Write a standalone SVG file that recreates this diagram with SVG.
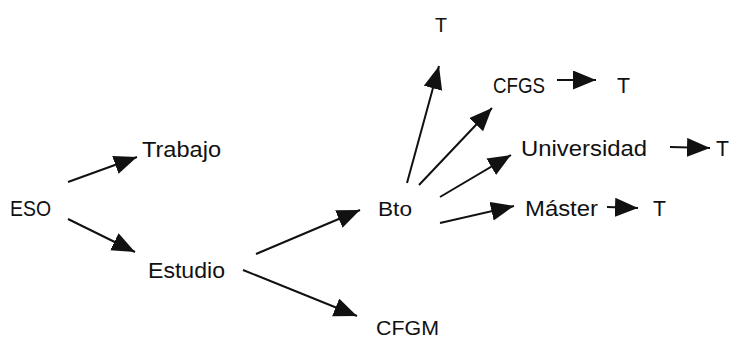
<svg xmlns="http://www.w3.org/2000/svg" width="731" height="340" viewBox="0 0 731 340">
<style>
text{font-family:"Liberation Sans",Arial,sans-serif;font-size:21px;fill:#111}
.c{font-size:22px}
.e{stroke:#111;stroke-width:2;fill:none;marker-end:url(#ah)}
</style>
<defs>
<marker id="ah" markerUnits="userSpaceOnUse" markerWidth="26" markerHeight="20" refX="23" refY="9.5" orient="auto">
<path d="M0,0 L23,9.5 L0,19 z" fill="#111"/>
</marker>
</defs>
<rect width="731" height="340" fill="#fff"/>
<g id="connectors">
<line class="e" x1="68" y1="182" x2="137" y2="157"/>
<line class="e" x1="68" y1="219" x2="135" y2="252"/>
<line class="e" x1="256" y1="254" x2="360" y2="210"/>
<line class="e" x1="243" y1="270" x2="357" y2="316"/>
<line class="e" x1="407" y1="183" x2="439" y2="66"/>
<line class="e" x1="419" y1="185" x2="492" y2="108"/>
<line class="e" x1="440" y1="197" x2="511" y2="155"/>
<line class="e" x1="440" y1="223" x2="514" y2="206"/>
<line class="e" x1="557" y1="80" x2="596" y2="80"/>
<line class="e" x1="670" y1="147" x2="710" y2="148"/>
<line class="e" x1="607" y1="207" x2="638" y2="208"/>
</g>
<g id="eso"><text class="c" x="10" y="216" textLength="41" lengthAdjust="spacingAndGlyphs">ESO</text></g>
<g id="trabajo"><text class="c" x="142" y="157" textLength="79" lengthAdjust="spacingAndGlyphs">Trabajo</text></g>
<g id="estudio"><text class="c" x="148" y="278" textLength="77" lengthAdjust="spacingAndGlyphs">Estudio</text></g>
<g id="bto"><text x="378" y="216" textLength="34" lengthAdjust="spacingAndGlyphs">Bto</text></g>
<g id="cfgm"><text x="376" y="335" textLength="63" lengthAdjust="spacingAndGlyphs">CFGM</text></g>
<g id="t1"><text x="435" y="32" textLength="12" lengthAdjust="spacingAndGlyphs">T</text></g>
<g id="cfgs"><text class="c" x="493" y="93" textLength="52" lengthAdjust="spacingAndGlyphs">CFGS</text></g>
<g id="t2"><text class="c" x="617" y="93" textLength="13" lengthAdjust="spacingAndGlyphs">T</text></g>
<g id="universidad"><text class="c" x="521" y="156" textLength="126" lengthAdjust="spacingAndGlyphs">Universidad</text></g>
<g id="t3"><text class="c" x="716" y="156" textLength="13" lengthAdjust="spacingAndGlyphs">T</text></g>
<g id="master"><text class="c" x="525" y="216" textLength="73" lengthAdjust="spacingAndGlyphs">Máster</text></g>
<g id="t4"><text class="c" x="653" y="216" textLength="13" lengthAdjust="spacingAndGlyphs">T</text></g>
</svg>
